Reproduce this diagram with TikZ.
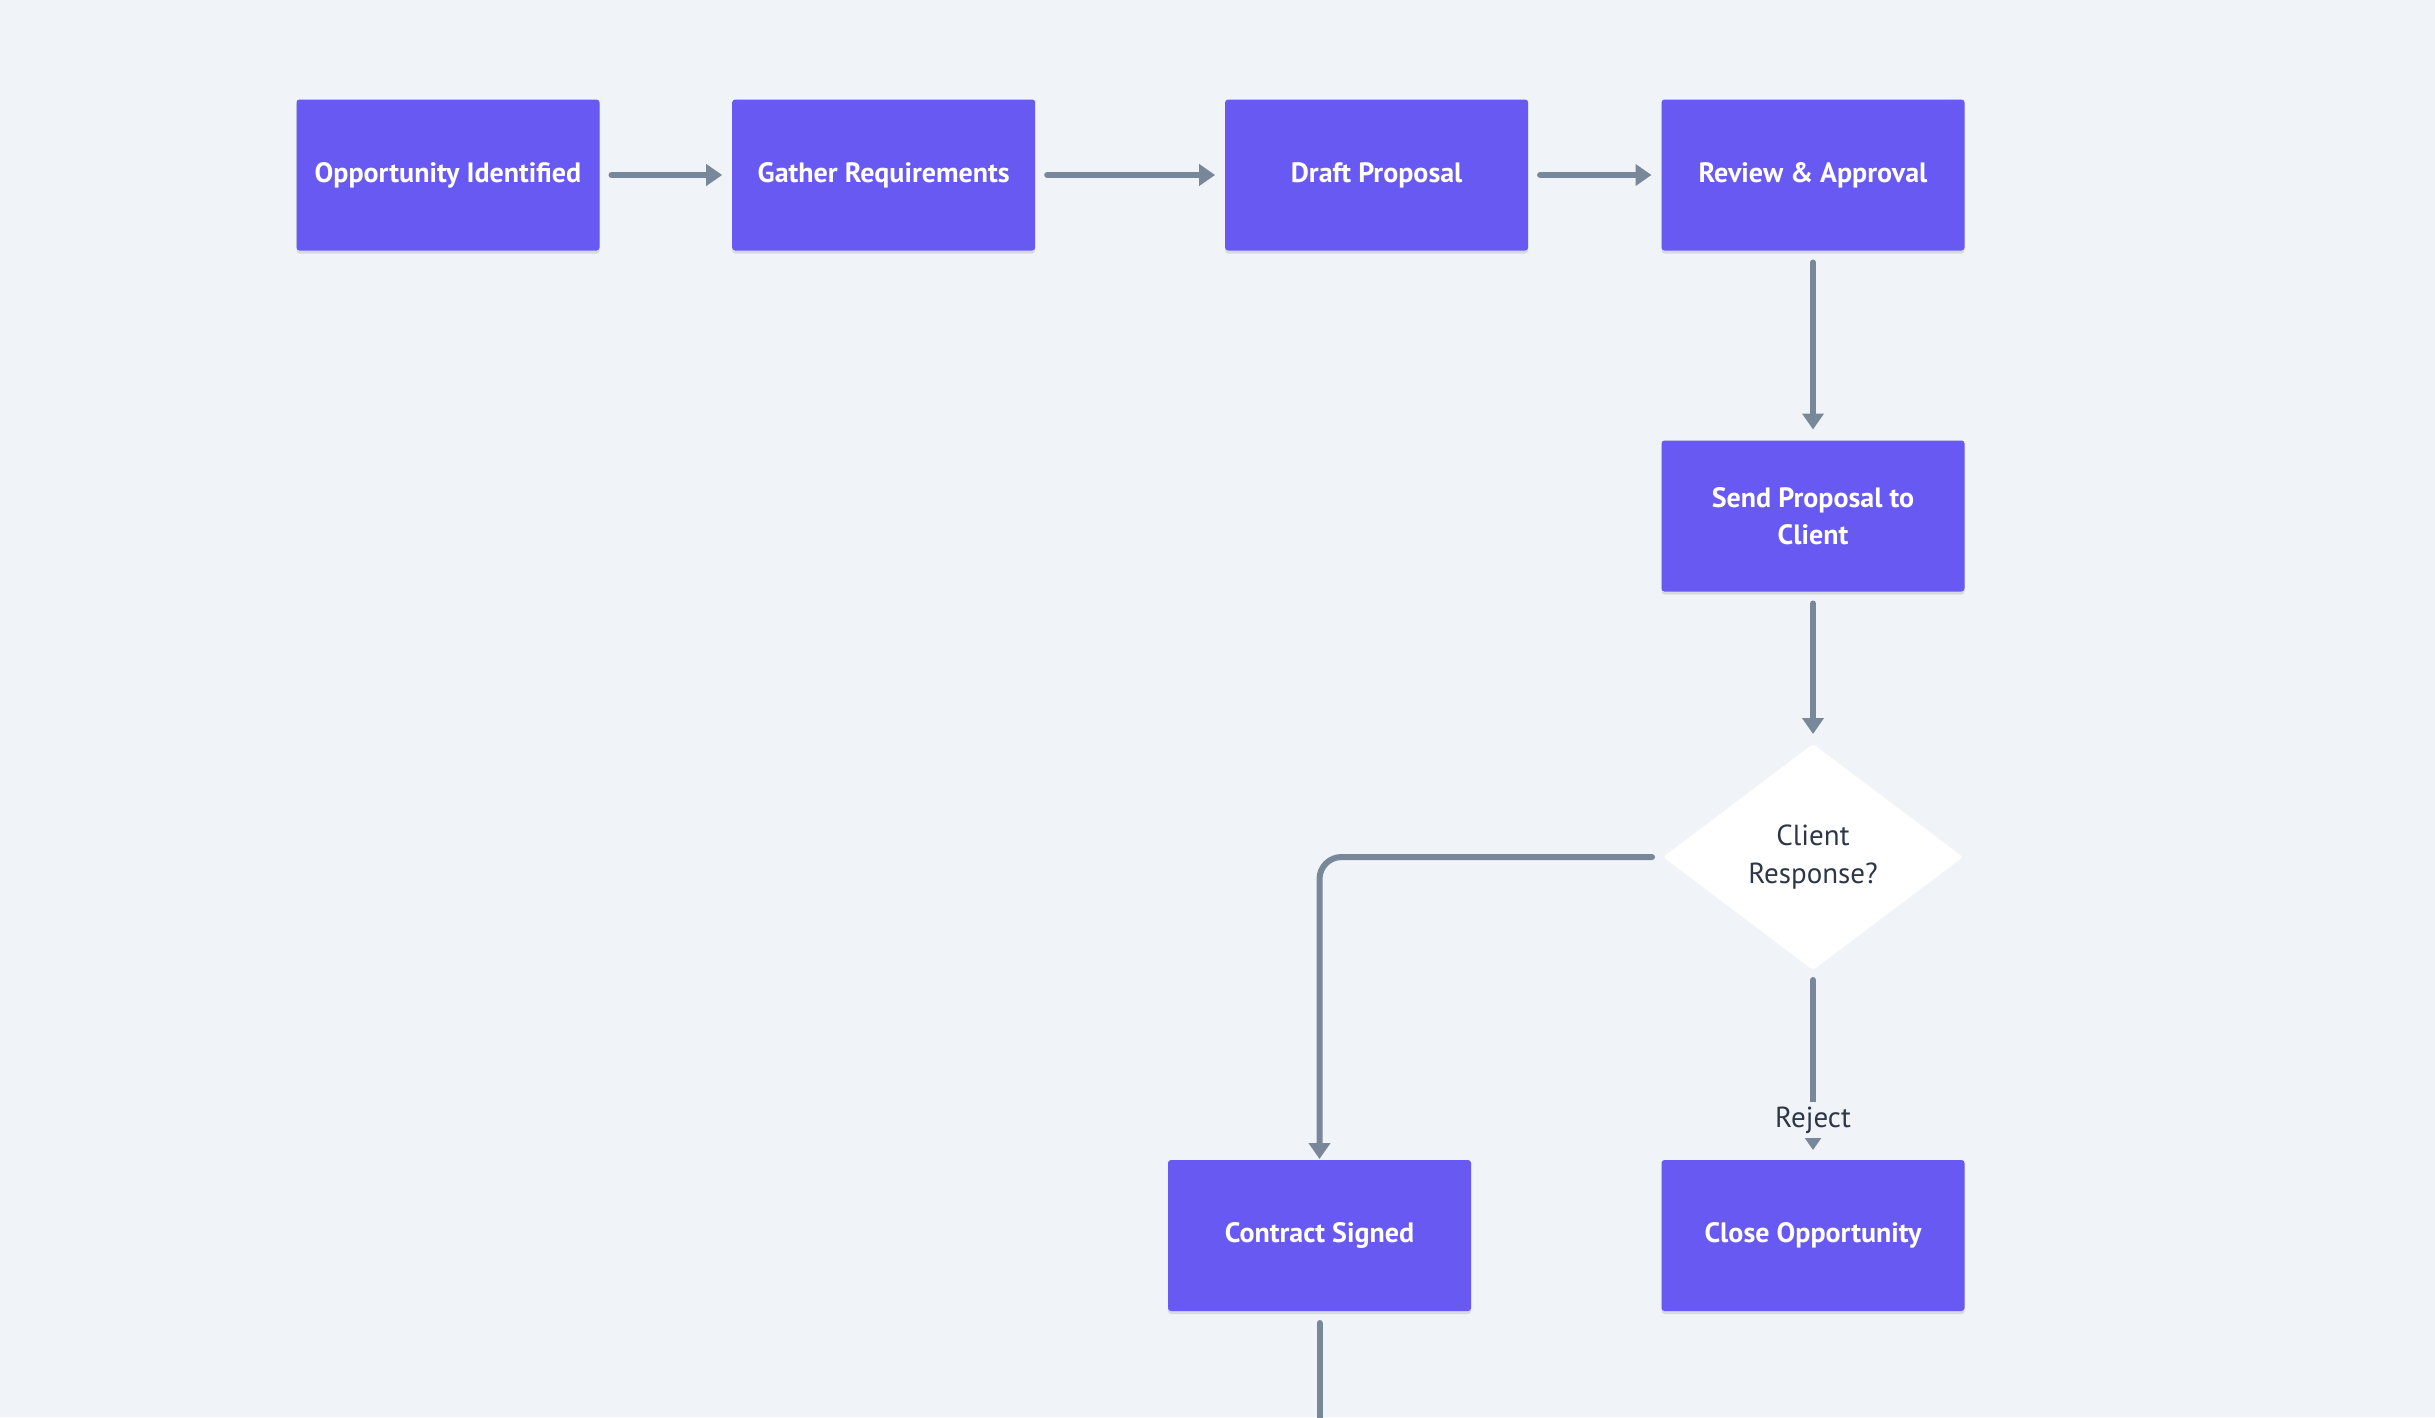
\documentclass[tikz,border=0pt]{standalone}
\usepackage{fontspec}
\setmainfont{PT Sans}
\usetikzlibrary{shapes.geometric,arrows.meta,shadows}
\definecolor{bg}{HTML}{F0F3F7}
\definecolor{boxc}{HTML}{6759F2}
\definecolor{edgec}{HTML}{78889A}
\definecolor{txtd}{HTML}{2D3748}
\begin{document}
\begin{tikzpicture}[x=1pt,y=-1pt,
  proc/.style={rectangle, rounded corners=3pt, fill=boxc, minimum width=303pt, minimum height=151pt,
    inner sep=0pt, outer sep=0pt, text=white, align=center,
    font=\fontsize{28}{37}\selectfont\bfseries,
    drop shadow={shadow xshift=0pt, shadow yshift=-3pt, opacity=0.10, fill=black}},
  dec/.style={diamond, aspect=1.327, fill=white, minimum width=300pt, minimum height=226pt,
    inner sep=0pt, outer sep=0pt, rounded corners=3pt, text=txtd, align=center,
    font=\fontsize{29}{38}\selectfont},
  conn/.style={draw=edgec, line width=6pt, line cap=round, -{Triangle[length=16pt,width=21pt]}},
  plain/.style={draw=edgec, line width=6pt, line cap=round},
  lbl/.style={fill=bg, text=txtd, inner xsep=2pt, inner ysep=5pt, font=\fontsize{29}{32}\selectfont}
]
\path[use as bounding box, fill=bg] (0,0) rectangle (2435,1417);
\clip (0,0) rectangle (2435,1417);

\node[proc] (o1) at (448,175) {Opportunity Identified};
\node[proc] (o2) at (883.7,175) {Gather Requirements};
\node[proc] (o3) at (1376.6,175) {Draft Proposal};
\node[proc] (o4) at (1813,175) {Review \& Approval};
\node[proc] (o5) at (1813,516) {Send Proposal to\\Client};
\node[dec]  (d)  at (1813,857) {Client\\Response?};
\node[proc] (cs) at (1319.5,1235.5) {Contract Signed};
\node[proc] (co) at (1813,1235.5) {Close Opportunity};
\coordinate (bot) at (1319.5,1440);

\draw[conn, shorten <=12pt, shorten >=10pt] (o1.east) -- (o2.west);
\draw[conn, shorten <=12pt, shorten >=10pt] (o2.east) -- (o3.west);
\draw[conn, shorten <=12pt, shorten >=10pt] (o3.east) -- (o4.west);
\draw[conn, shorten <=12pt, shorten >=11pt] (o4.south) -- (o5.north);
\draw[conn, shorten <=12pt, shorten >=10pt] (o5.south) -- (d.north);
\draw[conn, rounded corners=22pt, shorten <=11pt, shorten >=1pt] (d.west) -- (cs.north |- d.west) -- (cs.north);
\draw[conn, shorten <=10pt, shorten >=10pt] (d.south) -- node[lbl, pos=0.79] {Reject} (co.north);
\draw[plain, shorten <=12pt] (cs.south) -- (bot);
\end{tikzpicture}
\end{document}
